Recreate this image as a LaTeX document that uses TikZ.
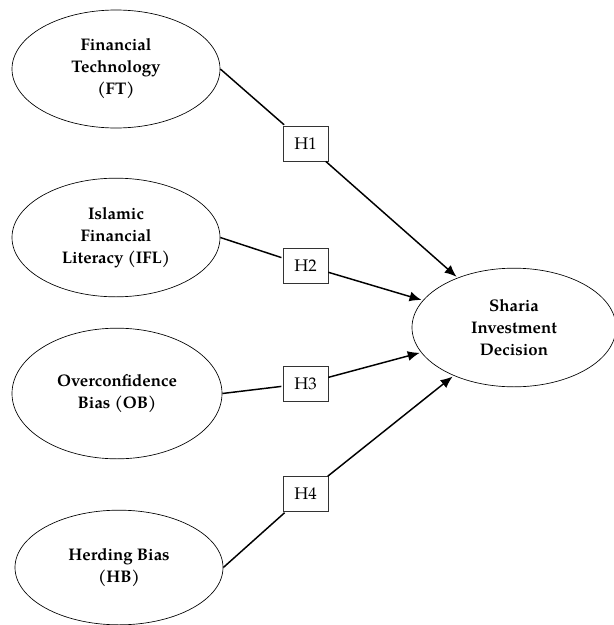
\documentclass[tikz,border=0pt]{standalone}
\usepackage{fontspec}
\setmainfont{TeX Gyre Pagella}
\usetikzlibrary{shapes.geometric,arrows.meta}

\begin{document}
\begin{tikzpicture}[x=0.75pt,y=-0.75pt,>={Latex[length=9pt,width=7.5pt]},shorten >=1pt,
                    line width=1.1pt]
  \tikzstyle{construct}=[ellipse,draw=black,line width=0.5pt,inner sep=0pt,align=center,
                         font=\fontsize{12.6}{16.5}\selectfont\bfseries]
  \tikzstyle{hyp}=[rectangle,draw=black!80,line width=0.5pt,fill=white,inner sep=0pt,
                   minimum width=33.75pt,minimum height=26.25pt,font=\fontsize{12.6}{14}\selectfont]

  \useasboundingbox (0,0) rectangle (614,625);

  \node[construct,minimum width=156pt,minimum height=88.5pt] (FT)  at (116,69)    {Financial\\Technology\\(FT)};
  \node[construct,minimum width=156pt,minimum height=89pt]   (IFL) at (116,237.5) {Islamic\\Financial\\Literacy (IFL)};
  \node[construct,minimum width=157.5pt,minimum height=98pt] (OB)  at (117,393.5) {Overconfidence\\Bias (OB)};
  \node[construct,minimum width=156pt,minimum height=86pt]   (HB)  at (119,567.5) {Herding Bias\\(HB)};
  \node[construct,minimum width=153pt,minimum height=89pt]   (SID) at (514,327.5) {Sharia\\Investment\\Decision};

  \node[hyp] (H1) at (305.5,143.5) {H1};
  \node[hyp] (H2) at (305.5,265.5) {H2};
  \node[hyp] (H3) at (305.5,383.5) {H3};
  \node[hyp] (H4) at (305.5,494)   {H4};

  \path (FT.east)  edge        (H1)
        (H1)       edge [->]   (SID)
        (IFL.east) edge        (H2)
        (H2)       edge [->]   (SID)
        (OB.east)  edge        (H3)
        (H3)       edge [->]   (SID)
        (HB.east)  edge        (H4)
        (H4)       edge [->]   (SID);
\end{tikzpicture}
\end{document}
